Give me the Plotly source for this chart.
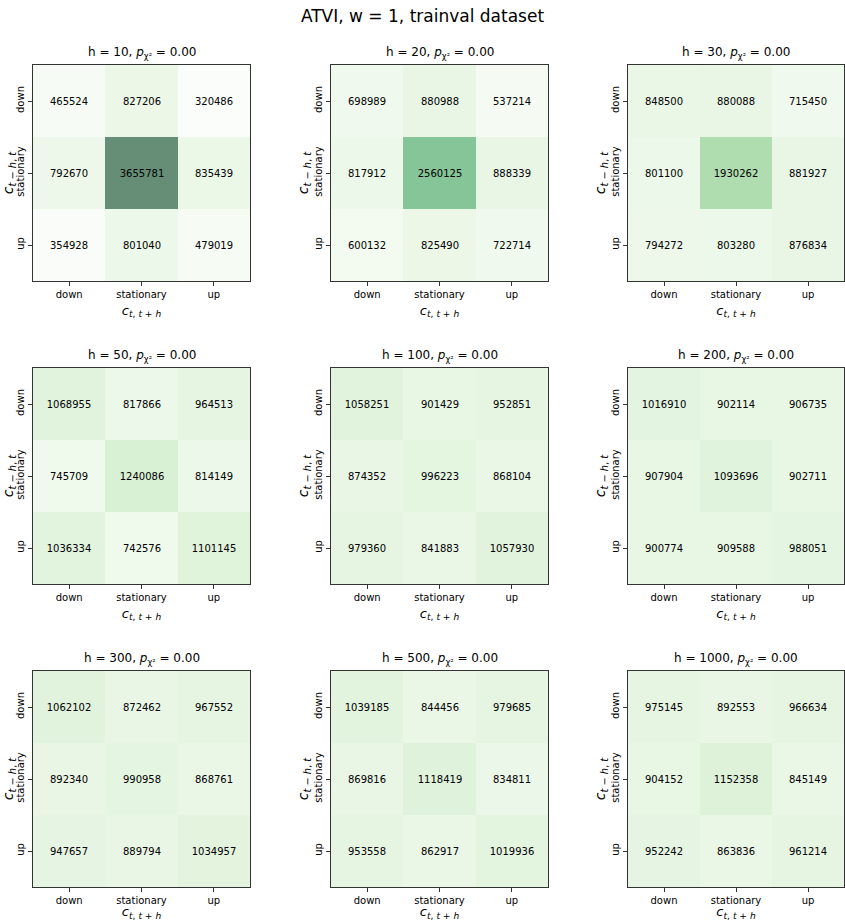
import plotly.graph_objects as go

labels = ["down", "stationary", "up"]
horizons = [10, 20, 30, 50, 100, 200, 300, 500, 1000]
p_values = [0.00] * 9

h10 = [[465524, 827206, 320486], [792670, 3655781, 835439], [354928, 801040, 479019]]
h20 = [[698989, 880988, 537214], [817912, 2560125, 888339], [600132, 825490, 722714]]
h30 = [[848500, 880088, 715450], [801100, 1930262, 881927], [794272, 803280, 876834]]
h50 = [[1068955, 817866, 964513], [745709, 1240086, 814149], [1036334, 742576, 1101145]]
h100 = [[1058251, 901429, 952851], [874352, 996223, 868104], [979360, 841883, 1057930]]
h200 = [[1016910, 902114, 906735], [907904, 1093696, 902711], [900774, 909588, 988051]]
h300 = [[1062102, 872462, 967552], [892340, 990958, 868761], [947657, 889794, 1034957]]
h500 = [[1039185, 844456, 979685], [869816, 1118419, 834811], [953558, 862917, 1019936]]
h1000 = [[975145, 892553, 966634], [904152, 1152358, 845149], [952242, 863836, 961214]]

matrices = [h10, h20, h30, h50, h100, h200, h300, h500, h1000]

W, H = 845, 921
col_px = [(33, 250), (331, 548), (628, 844)]
row_px = [(65, 281), (368, 584), (671, 887)]

allv = [v for m in matrices for r in m for v in r]
zmin, zmax = min(allv), max(allv)

font = "DejaVu Sans, Liberation Sans, sans-serif"
fig = go.Figure()
annotations = []
layout_axes = {}
for i, (h, m) in enumerate(zip(horizons, matrices)):
    r, c = divmod(i, 3)
    k = "" if i == 0 else str(i + 1)
    x0, x1 = col_px[c]
    y0, y1 = row_px[r]
    xd = [x0 / W, x1 / W]
    yd = [1 - y1 / H, 1 - y0 / H]
    fig.add_trace(go.Heatmap(
        z=m, x=labels, y=labels,
        text=[[str(v) for v in row] for row in m],
        texttemplate="%{text}",
        textfont=dict(size=10, color="black", family=font),
        colorscale="Greens", zmin=zmin, zmax=zmax, opacity=0.6,
        showscale=False, xaxis="x" + k, yaxis="y" + k,
        xgap=0, ygap=0, hoverinfo="z",
    ))
    axcommon = dict(showline=True, linecolor="#333333", linewidth=1, mirror=True,
                    ticks="outside", ticklen=4, tickcolor="#333333",
                    tickfont=dict(size=10, family=font, color="black"),
                    showgrid=False, zeroline=False, fixedrange=True)
    layout_axes["xaxis" + k] = dict(domain=xd, anchor="y" + k, type="category",
                                    title=dict(text="<i>c</i><sub><i>t</i>, <i>t</i> + <i>h</i></sub>",
                                               font=dict(size=13, family=font, color="black"), standoff=6),
                                    **axcommon)
    layout_axes["yaxis" + k] = dict(domain=yd, anchor="x" + k, type="category",
                                    autorange="reversed", tickangle=-90,
                                    title=dict(text="<i>c</i><sub><i>t</i> − <i>h</i>, <i>t</i></sub>",
                                               font=dict(size=14, family=font, color="black"), standoff=1),
                                    **axcommon)
    annotations.append(dict(
        text=f"h = {h}, <i>p</i><sub>χ²</sub> = {p_values[i]:.2f}",
        x=(xd[0] + xd[1]) / 2, y=yd[1], xref="paper", yref="paper",
        xanchor="center", yanchor="bottom", yshift=2, showarrow=False,
        font=dict(size=12, family=font, color="black"),
    ))

fig.update_layout(
    width=W, height=H,
    margin=dict(l=0, r=0, t=0, b=0),
    paper_bgcolor="white", plot_bgcolor="white",
    title=dict(text="ATVI, w = 1, trainval dataset", x=0.5, xanchor="center",
               y=1 - 16 / H, yanchor="middle", font=dict(size=17, family=font, color="black")),
    annotations=annotations,
    **layout_axes,
)
fig.write_html("out.html", config={"displayModeBar": False},
               post_script="document.body.style.margin='0';document.body.style.overflow='hidden';")
